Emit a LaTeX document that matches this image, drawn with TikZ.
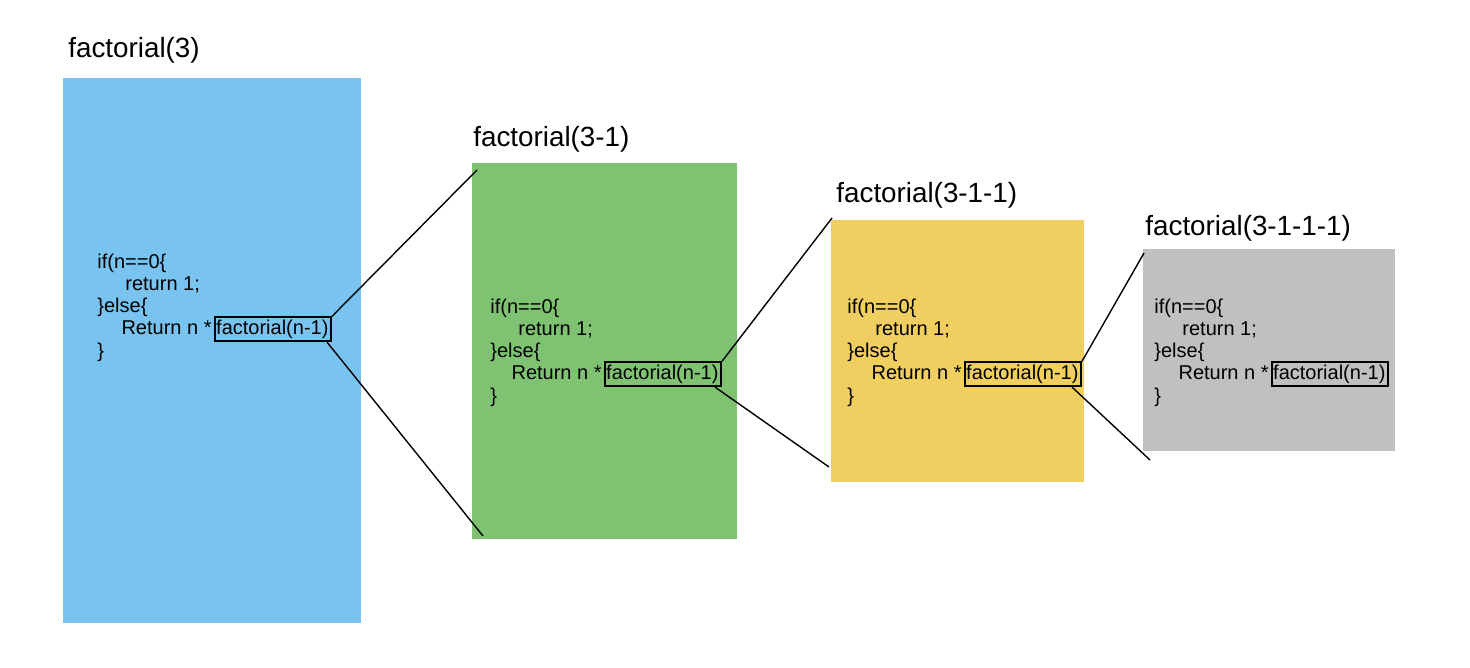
\documentclass[tikz,border=0pt]{standalone}
\usepackage{fontspec}
\setmainfont{Liberation Sans}
\definecolor{frameBlue}{HTML}{78C3F0}
\definecolor{frameGreen}{HTML}{7FC372}
\definecolor{frameYellow}{HTML}{F0CF60}
\definecolor{frameGray}{HTML}{C0C0C0}
\usetikzlibrary{positioning}

\begin{document}
\begin{tikzpicture}[x=0.5pt, y=-0.5pt,
    title/.style={anchor=west, inner sep=0pt, font=\fontsize{13.9}{16}\selectfont},
    code/.style={anchor=west, inner sep=0pt, text height=7.3pt, text depth=2.2pt, font=\fontsize{10}{11}\selectfont},
    callbox/.style={code, draw, line width=1pt, inner xsep=0.6pt, inner ysep=1.2pt, text width=56.8pt},
    zoomline/.style={line width=0.7pt}]
        \useasboundingbox (0,0) rectangle (1470,668);

        % Frames
        \fill[frameBlue] (63,78) rectangle (361,623);
        \fill[frameGreen] (472,163) rectangle (737,539);
        \fill[frameYellow] (831,220) rectangle (1084,482);
        \fill[frameGray] (1143,249) rectangle (1395,451);

        % Titles
        \node[title] (t-a) at (68,50) {factorial(3)};
        \node[title] (t-b) at (473,139) {factorial(3-1)};
        \node[title] (t-c) at (836,195) {factorial(3-1-1)};
        \node[title] (t-d) at (1145,228) {factorial(3-1-1-1)};

        % Code in each frame
        \foreach \fr/\cx/\cy/\hx in {a/97/263/214, b/490/308/604, c/847/308/964, d/1154/308/1271} {
            \node[code] (if-\fr) at (\cx,\cy) {if(n==0\{};
            \node[code] (ret1-\fr) at (\cx+28,\cy+22.3) {return 1;};
            \node[code] (else-\fr) at (\cx,\cy+44.6) {\}else\{};
            \node[callbox] (hl-\fr) at (\hx,\cy+66.2) {\mbox{factorial(n-1)}};
            \node[code, anchor=east] (ret2-\fr) at ([xshift=-1pt]hl-\fr.west) {Return n *};
            \node[code] (end-\fr) at (\cx,\cy+89.2) {\}};
        }

        % Zoom lines
        \coordinate (b-top) at (477,170);
        \coordinate (b-bot) at (483,536);
        \coordinate (c-top) at (832,218);
        \coordinate (c-bot) at (829,467);
        \coordinate (d-top) at (1144,253);
        \coordinate (d-bot) at (1150,460);

        \draw[zoomline] (hl-a.north east) -- (b-top);
        \draw[zoomline] ([xshift=-2.5pt]hl-a.south east) -- (b-bot);
        \draw[zoomline] (hl-b.north east) -- (c-top);
        \draw[zoomline] ([xshift=-3.5pt]hl-b.south east) -- (c-bot);
        \draw[zoomline] (hl-c.north east) -- (d-top);
        \draw[zoomline] ([xshift=-5pt]hl-c.south east) -- (d-bot);
    \end{tikzpicture}
\end{document}
